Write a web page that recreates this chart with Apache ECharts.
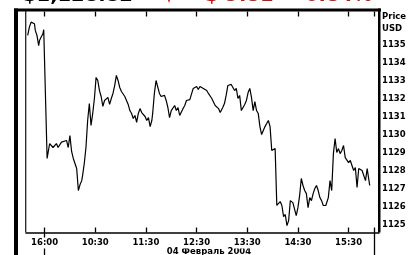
<!DOCTYPE html>
<html>
<head>
<meta charset="utf-8">
<script src="https://cdn.jsdelivr.net/npm/echarts@6/dist/echarts.min.js"></script>
<style>
  html, body { margin: 0; padding: 0; background: #fff; }
  #main { width: 412px; height: 255px; }
</style>
</head>
<body>
<div id="main"></div>
<script>
// time is minutes from today's open (09:30), negative = tail of the previous session
var prevMinutes = [-20, -18, -16, -14, -12, -11, -9, -8, -7, -6, -5, -4, -3, -2, -1];
var prevPrices = [1135.50, 1135.96, 1136.24, 1136.33, 1136.15, 1135.78, 1135.50, 1135.59, 1134.94, 1135.22, 1135.13, 1135.41, 1135.32, 1135.59, 1135.82];

var dayMinutes = [3, 6, 10, 14, 16, 20, 22, 26, 28, 30, 32, 34, 36, 38, 40, 42, 44, 45, 47, 49,
  51, 53, 55, 57, 59, 61, 63, 65, 67, 69, 71, 73, 75, 77, 79, 81, 83, 85, 87, 89,
  91, 93, 95, 97, 99, 101, 103, 105, 107, 109, 111, 113, 115, 117, 119, 121, 123, 125, 127, 128,
  130, 132, 134, 136, 138, 140, 142, 144, 146, 148, 150, 152, 154, 156, 158, 160, 162, 164, 166, 168,
  170, 172, 174, 176, 178, 180, 182, 184, 186, 188, 190, 192, 194, 196, 198, 200, 202, 204, 206, 208,
  210, 211, 213, 215, 217, 219, 221, 223, 225, 227, 229, 231, 233, 235, 237, 239, 241, 243, 245, 247,
  249, 251, 253, 255, 257, 259, 261, 263, 265, 267, 269, 271, 273, 275, 277, 279, 281, 283, 285, 287,
  289, 291, 293, 294, 296, 298, 300, 302, 304, 306, 308, 310, 312, 314, 316, 318, 320, 322, 324, 326,
  328, 330, 333, 336, 338, 340, 342, 344, 346, 348, 350, 352, 354, 356, 358, 360, 362, 364, 366, 368,
  370, 372, 374, 376, 378, 380, 382, 383, 385];
var dayPrices = [1128.67, 1129.50, 1129.28, 1129.50, 1129.28, 1129.58, 1129.50, 1129.67, 1129.28, 1129.94,
  1129.06, 1128.67, 1128.39, 1128.11, 1126.89, 1127.22, 1127.44, 1127.72, 1128.39, 1129.28,
  1130.78, 1131.72, 1130.50, 1131.17, 1132.00, 1133.17, 1133.00, 1132.44, 1132.11, 1131.56,
  1131.89, 1131.83, 1132.06, 1131.67, 1132.00, 1132.28, 1132.72, 1133.28, 1133.00, 1132.61,
  1132.39, 1132.28, 1132.11, 1131.89, 1131.67, 1131.33, 1131.17, 1130.89, 1131.06, 1130.67,
  1131.17, 1131.44, 1131.22, 1131.28, 1131.00, 1130.78, 1130.94, 1130.44, 1130.78, 1131.17,
  1132.28, 1133.00, 1133.00, 1132.28, 1132.11, 1132.22, 1132.17, 1131.89, 1131.50, 1130.94,
  1131.33, 1131.28, 1131.61, 1131.33, 1131.50, 1131.06, 1131.17, 1131.44, 1131.61, 1131.89,
  1132.00, 1131.94, 1132.00, 1132.56, 1132.67, 1132.67, 1132.50, 1132.67, 1132.56, 1132.56,
  1132.61, 1132.44, 1132.28, 1132.17, 1132.00, 1131.89, 1131.61, 1131.67, 1131.44, 1131.22,
  1131.33, 1131.50, 1131.72, 1132.17, 1132.72, 1132.83, 1132.78, 1132.72, 1132.44, 1132.56,
  1132.00, 1132.17, 1131.33, 1131.44, 1131.67, 1131.89, 1132.33, 1132.56, 1132.06, 1131.33,
  1131.83, 1131.33, 1131.17, 1130.44, 1130.00, 1130.22, 1130.44, 1130.61, 1130.78, 1130.44,
  1129.11, 1129.22, 1129.22, 1126.06, 1126.11, 1126.28, 1126.06, 1125.44, 1125.56, 1124.94,
  1125.22, 1126.33, 1126.44, 1126.22, 1126.33, 1125.50, 1125.94, 1126.61, 1127.56, 1127.17,
  1126.89, 1126.72, 1125.94, 1126.50, 1126.33, 1126.72, 1127.00, 1127.17, 1126.89, 1126.50,
  1126.33, 1126.06, 1126.06, 1126.50, 1127.44, 1126.89, 1128.94, 1129.78, 1129.00, 1129.22,
  1128.94, 1129.11, 1129.39, 1128.72, 1128.83, 1128.44, 1128.56, 1128.56, 1128.00, 1128.17,
  1127.06, 1128.11, 1128.17, 1128.00, 1128.11, 1127.44, 1128.11, 1128.00, 1127.17];

var tickMinutes = [0, 60, 120, 180, 240, 300, 360];
var tickLabels = ["16:00", "10:30", "11:30", "12:30", "13:30", "14:30", "15:30"];
var sessionBreaks = [0, 390];
var priceTicks = [1125, 1126, 1127, 1128, 1129, 1130, 1131, 1132, 1133, 1134, 1135];
var dateLabel = "04 Февраль 2004";
var lastPrice = "$1,128.82";
var changeAbs = "$ 9.81";
var changePct = "0.84%";

var points = [];
for (var i = 0; i < prevMinutes.length; i++) points.push([prevMinutes[i], prevPrices[i]]);
for (var j = 0; j < dayMinutes.length; j++) points.push([dayMinutes[j], dayPrices[j]]);

var FONT = "DejaVu Sans";
var xMin = -22, xMax = 396;

var myChart = echarts.init(document.getElementById("main"));
myChart.setOption({
  animation: false,
  backgroundColor: "#fff",
  grid: { left: 26, right: 33, top: 11.5, bottom: 22.5, containLabel: false },
  xAxis: [
    {
      type: "value", min: xMin, max: xMax, position: "bottom", z: 3,
      axisLine: { lineStyle: { color: "#000", width: 1.5 } },
      axisTick: { inside: true, length: 5, customValues: tickMinutes.concat([390]), lineStyle: { color: "#000", width: 1.3 } },
      axisLabel: {
        customValues: tickMinutes,
        formatter: function (v) { return tickLabels[tickMinutes.indexOf(v)]; },
        color: "#000", fontFamily: FONT, fontWeight: "bold", fontSize: 8.5,
        margin: 5, backgroundColor: "#fff", padding: [1, 1]
      },
      splitLine: { show: false }
    },
    {
      type: "value", min: xMin, max: xMax, position: "bottom", z: 1,
      axisLine: { show: false },
      axisTick: { customValues: sessionBreaks, length: 24, lineStyle: { color: "#000", width: 1.3 } },
      axisLabel: { show: false },
      splitLine: { show: false }
    },
    {
      type: "value", min: xMin, max: xMax, position: "top",
      axisLine: { show: false },
      axisTick: { inside: true, length: 5, customValues: tickMinutes.concat([390]), lineStyle: { color: "#000", width: 1.3 } },
      axisLabel: { show: false },
      splitLine: { show: false }
    }
  ],
  yAxis: {
    type: "value", position: "right", min: 1124.56, max: 1136.83,
    axisLine: { show: false },
    axisTick: { show: false },
    axisLabel: {
      customValues: priceTicks,
      formatter: function (v) { return String(v); },
      color: "#000", fontFamily: FONT, fontWeight: "bold", fontSize: 8.5, margin: 3
    },
    splitLine: { show: false }
  },
  series: [{
    type: "line",
    xAxisIndex: 0,
    data: points,
    showSymbol: false,
    smooth: false,
    lineStyle: { color: "#000", width: 1.2 }
  }],
  graphic: [
    { type: "rect", z: 10, shape: { x: 14, y: 8.5, width: 4, height: 247 }, style: { fill: "#000" } },
    { type: "rect", z: 10, shape: { x: 14, y: 8.5, width: 367, height: 3 }, style: { fill: "#000" } },
    { type: "rect", z: 10, shape: { x: 378, y: 8.5, width: 2.5, height: 224 }, style: { fill: "#000" } },
    { type: "line", z: 10, shape: { x1: 25.7, y1: 11, x2: 25.7, y2: 232.5 }, style: { stroke: "#222", lineWidth: 1.3 } },
    { type: "text", x: 382, y: 17, style: { text: "Price", font: "bold 8.5px '" + FONT + "'", fill: "#000", align: "left", verticalAlign: "middle" } },
    { type: "text", x: 382, y: 29, style: { text: "USD", font: "bold 8.5px '" + FONT + "'", fill: "#000", align: "left", verticalAlign: "middle" } },
    { type: "text", x: 209, y: 251.5, style: { text: dateLabel, font: "bold 8.5px '" + FONT + "'", fill: "#000", align: "center", verticalAlign: "middle" } },
    { type: "text", x: 23, y: -3.6, style: { text: lastPrice, font: "bold 19.5px '" + FONT + "'", fill: "#000", align: "left", verticalAlign: "middle" } },
    { type: "polygon", shape: { points: [[164, -12], [174, -12], [169, 3]] }, style: { fill: "#e00" } },
    { type: "text", x: 205, y: -3.6, style: { text: changeAbs, font: "bold 19.5px '" + FONT + "'", fill: "#e00", align: "left", verticalAlign: "middle" } },
    { type: "text", x: 305, y: -3.6, style: { text: changePct, font: "bold 19.5px '" + FONT + "'", fill: "#e00", align: "left", verticalAlign: "middle" } }
  ]
});
</script>
</body>
</html>
